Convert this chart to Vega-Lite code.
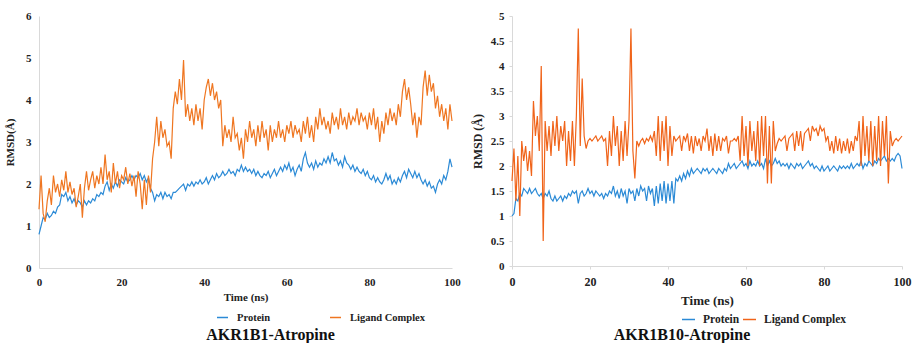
{
"$schema": "https://vega.github.io/schema/vega-lite/v6.json",
"background": "white",
"padding": {"left": 4, "top": 10, "right": 5, "bottom": 0},
"spacing": 10,
"config": {
  "view": {"stroke": null},
  "font": "Liberation Serif",
  "axis": {"domainColor": "#d9d9d9", "grid": false, "ticks": false, "labelFlush": false, "labelFont": "Liberation Serif", "labelFontWeight": "bold", "labelColor": "#222222", "titleFont": "Liberation Serif", "titleFontWeight": "bold", "titleColor": "#222222"},
  "legend": {"labelFont": "Liberation Serif", "labelFontWeight": "bold", "labelColor": "#222222", "padding": 0},
  "title": {"font": "Liberation Serif", "fontWeight": "bold", "color": "#111111"}
},
"resolve": {"scale": {"color": "independent", "x": "independent", "y": "independent"}, "legend": {"color": "independent"}},
"hconcat": [
{
  "width": 413, "height": 252,
  "title": {"text": "AKR1B1-Atropine", "orient": "bottom", "anchor": "middle", "fontSize": 16, "dx": 25, "offset": 4},
  "data": {"values": [
{"t":0,"Protein":0.8,"Ligand Complex":1.4},{"t":0.5,"Protein":1.0,"Ligand Complex":2.2},{"t":1,"Protein":1.2,"Ligand Complex":1.3},{"t":1.5,"Protein":1.15,"Ligand Complex":1.1},{"t":2,"Protein":1.3,"Ligand Complex":1.6},{"t":2.5,"Protein":1.2,"Ligand Complex":1.9},{"t":3,"Protein":1.25,"Ligand Complex":1.5},{"t":3.5,"Protein":1.35,"Ligand Complex":2.2},{"t":4,"Protein":1.3,"Ligand Complex":1.8},{"t":4.5,"Protein":1.45,"Ligand Complex":2.0},
{"t":5,"Protein":1.5,"Ligand Complex":1.7},{"t":5.5,"Protein":1.75,"Ligand Complex":2.1},{"t":6,"Protein":1.7,"Ligand Complex":1.85},{"t":6.5,"Protein":1.8,"Ligand Complex":2.3},{"t":7,"Protein":1.6,"Ligand Complex":1.8},{"t":7.5,"Protein":1.7,"Ligand Complex":2.05},{"t":8,"Protein":1.55,"Ligand Complex":1.75},{"t":8.5,"Protein":1.65,"Ligand Complex":1.9},{"t":9,"Protein":1.5,"Ligand Complex":1.45},{"t":9.5,"Protein":1.6,"Ligand Complex":1.7},
{"t":10,"Protein":1.55,"Ligand Complex":2.0},{"t":10.5,"Protein":1.45,"Ligand Complex":1.2},{"t":11,"Protein":1.6,"Ligand Complex":1.9},{"t":11.5,"Protein":1.5,"Ligand Complex":2.3},{"t":12,"Protein":1.6,"Ligand Complex":1.85},{"t":12.5,"Protein":1.55,"Ligand Complex":2.1},{"t":13,"Protein":1.65,"Ligand Complex":2.3},{"t":13.5,"Protein":1.6,"Ligand Complex":1.9},{"t":14,"Protein":1.75,"Ligand Complex":2.2},{"t":14.5,"Protein":1.7,"Ligand Complex":2.0},
{"t":15,"Protein":1.8,"Ligand Complex":2.4},{"t":15.5,"Protein":1.75,"Ligand Complex":2.0},{"t":16,"Protein":1.95,"Ligand Complex":2.7},{"t":16.5,"Protein":2.05,"Ligand Complex":2.1},{"t":17,"Protein":1.85,"Ligand Complex":2.3},{"t":17.5,"Protein":2.0,"Ligand Complex":1.8},{"t":18,"Protein":1.9,"Ligand Complex":2.5},{"t":18.5,"Protein":2.05,"Ligand Complex":2.0},{"t":19,"Protein":1.95,"Ligand Complex":2.3},{"t":19.5,"Protein":2.1,"Ligand Complex":1.9},
{"t":20,"Protein":2.05,"Ligand Complex":2.2},{"t":20.5,"Protein":2.0,"Ligand Complex":2.1},{"t":21,"Protein":2.15,"Ligand Complex":2.4},{"t":21.5,"Protein":2.05,"Ligand Complex":2.0},{"t":22,"Protein":2.1,"Ligand Complex":2.25},{"t":22.5,"Protein":2.2,"Ligand Complex":1.95},{"t":23,"Protein":2.1,"Ligand Complex":2.2},{"t":23.5,"Protein":2.2,"Ligand Complex":1.7},{"t":24,"Protein":2.15,"Ligand Complex":2.3},{"t":24.5,"Protein":2.25,"Ligand Complex":2.0},
{"t":25,"Protein":2.1,"Ligand Complex":1.4},{"t":25.5,"Protein":2.2,"Ligand Complex":2.1},{"t":26,"Protein":2.05,"Ligand Complex":1.5},{"t":26.5,"Protein":2.15,"Ligand Complex":2.2},{"t":27,"Protein":1.9,"Ligand Complex":1.8},{"t":27.5,"Protein":1.8,"Ligand Complex":2.6},{"t":28,"Protein":1.6,"Ligand Complex":3.0},{"t":28.5,"Protein":1.75,"Ligand Complex":3.6},{"t":29,"Protein":1.7,"Ligand Complex":2.9},{"t":29.5,"Protein":1.8,"Ligand Complex":3.5},
{"t":30,"Protein":1.65,"Ligand Complex":3.1},{"t":30.5,"Protein":1.8,"Ligand Complex":3.3},{"t":31,"Protein":1.7,"Ligand Complex":2.9},{"t":31.5,"Protein":1.75,"Ligand Complex":3.0},{"t":32,"Protein":1.65,"Ligand Complex":2.6},{"t":32.5,"Protein":1.8,"Ligand Complex":3.8},{"t":33,"Protein":1.8,"Ligand Complex":4.2},{"t":33.5,"Protein":1.85,"Ligand Complex":3.9},{"t":34,"Protein":1.9,"Ligand Complex":4.5},{"t":34.5,"Protein":1.95,"Ligand Complex":4.0},
{"t":35,"Protein":2.0,"Ligand Complex":4.95},{"t":35.5,"Protein":1.85,"Ligand Complex":3.6},{"t":36,"Protein":2.0,"Ligand Complex":3.9},{"t":36.5,"Protein":1.95,"Ligand Complex":3.5},{"t":37,"Protein":2.05,"Ligand Complex":3.8},{"t":37.5,"Protein":1.95,"Ligand Complex":3.4},{"t":38,"Protein":2.05,"Ligand Complex":3.9},{"t":38.5,"Protein":2.0,"Ligand Complex":3.5},{"t":39,"Protein":2.1,"Ligand Complex":3.8},{"t":39.5,"Protein":2.0,"Ligand Complex":3.3},
{"t":40,"Protein":2.05,"Ligand Complex":4.0},{"t":40.5,"Protein":2.15,"Ligand Complex":4.3},{"t":41,"Protein":2.0,"Ligand Complex":4.5},{"t":41.5,"Protein":2.1,"Ligand Complex":4.1},{"t":42,"Protein":2.2,"Ligand Complex":4.4},{"t":42.5,"Protein":2.1,"Ligand Complex":4.0},{"t":43,"Protein":2.25,"Ligand Complex":4.2},{"t":43.5,"Protein":2.15,"Ligand Complex":3.8},{"t":44,"Protein":2.2,"Ligand Complex":4.0},{"t":44.5,"Protein":2.3,"Ligand Complex":2.9},
{"t":45,"Protein":2.2,"Ligand Complex":3.4},{"t":45.5,"Protein":2.25,"Ligand Complex":3.1},{"t":46,"Protein":2.35,"Ligand Complex":3.3},{"t":46.5,"Protein":2.25,"Ligand Complex":3.0},{"t":47,"Protein":2.3,"Ligand Complex":3.6},{"t":47.5,"Protein":2.2,"Ligand Complex":3.1},{"t":48,"Protein":2.35,"Ligand Complex":3.2},{"t":48.5,"Protein":2.3,"Ligand Complex":2.8},{"t":49,"Protein":2.45,"Ligand Complex":3.1},{"t":49.5,"Protein":2.3,"Ligand Complex":2.6},
{"t":50,"Protein":2.4,"Ligand Complex":3.3},{"t":50.5,"Protein":2.3,"Ligand Complex":3.0},{"t":51,"Protein":2.35,"Ligand Complex":3.5},{"t":51.5,"Protein":2.25,"Ligand Complex":3.1},{"t":52,"Protein":2.35,"Ligand Complex":3.3},{"t":52.5,"Protein":2.2,"Ligand Complex":2.9},{"t":53,"Protein":2.3,"Ligand Complex":3.4},{"t":53.5,"Protein":2.2,"Ligand Complex":3.0},{"t":54,"Protein":2.15,"Ligand Complex":3.5},{"t":54.5,"Protein":2.25,"Ligand Complex":3.1},
{"t":55,"Protein":2.2,"Ligand Complex":3.3},{"t":55.5,"Protein":2.3,"Ligand Complex":2.8},{"t":56,"Protein":2.15,"Ligand Complex":3.4},{"t":56.5,"Protein":2.25,"Ligand Complex":3.0},{"t":57,"Protein":2.35,"Ligand Complex":3.3},{"t":57.5,"Protein":2.2,"Ligand Complex":3.1},{"t":58,"Protein":2.3,"Ligand Complex":3.5},{"t":58.5,"Protein":2.4,"Ligand Complex":3.1},{"t":59,"Protein":2.3,"Ligand Complex":3.3},{"t":59.5,"Protein":2.45,"Ligand Complex":3.0},
{"t":60,"Protein":2.35,"Ligand Complex":3.4},{"t":60.5,"Protein":2.5,"Ligand Complex":3.2},{"t":61,"Protein":2.3,"Ligand Complex":3.5},{"t":61.5,"Protein":2.4,"Ligand Complex":3.1},{"t":62,"Protein":2.2,"Ligand Complex":3.4},{"t":62.5,"Protein":2.35,"Ligand Complex":3.2},{"t":63,"Protein":2.45,"Ligand Complex":3.3},{"t":63.5,"Protein":2.3,"Ligand Complex":3.0},{"t":64,"Protein":2.6,"Ligand Complex":3.5},{"t":64.5,"Protein":2.75,"Ligand Complex":3.2},
{"t":65,"Protein":2.5,"Ligand Complex":3.6},{"t":65.5,"Protein":2.4,"Ligand Complex":3.1},{"t":66,"Protein":2.5,"Ligand Complex":3.4},{"t":66.5,"Protein":2.35,"Ligand Complex":3.0},{"t":67,"Protein":2.55,"Ligand Complex":3.6},{"t":67.5,"Protein":2.4,"Ligand Complex":3.3},{"t":68,"Protein":2.5,"Ligand Complex":3.8},{"t":68.5,"Protein":2.45,"Ligand Complex":3.4},{"t":69,"Protein":2.6,"Ligand Complex":3.6},{"t":69.5,"Protein":2.5,"Ligand Complex":3.3},
{"t":70,"Protein":2.65,"Ligand Complex":3.5},{"t":70.5,"Protein":2.5,"Ligand Complex":3.2},{"t":71,"Protein":2.75,"Ligand Complex":3.7},{"t":71.5,"Protein":2.55,"Ligand Complex":3.4},{"t":72,"Protein":2.6,"Ligand Complex":3.6},{"t":72.5,"Protein":2.45,"Ligand Complex":3.3},{"t":73,"Protein":2.55,"Ligand Complex":3.8},{"t":73.5,"Protein":2.4,"Ligand Complex":3.4},{"t":74,"Protein":2.65,"Ligand Complex":3.6},{"t":74.5,"Protein":2.5,"Ligand Complex":3.3},
{"t":75,"Protein":2.45,"Ligand Complex":3.7},{"t":75.5,"Protein":2.35,"Ligand Complex":3.4},{"t":76,"Protein":2.45,"Ligand Complex":3.6},{"t":76.5,"Protein":2.3,"Ligand Complex":3.5},{"t":77,"Protein":2.4,"Ligand Complex":3.8},{"t":77.5,"Protein":2.3,"Ligand Complex":3.4},{"t":78,"Protein":2.25,"Ligand Complex":3.7},{"t":78.5,"Protein":2.35,"Ligand Complex":3.5},{"t":79,"Protein":2.2,"Ligand Complex":3.6},{"t":79.5,"Protein":2.3,"Ligand Complex":3.3},
{"t":80,"Protein":2.15,"Ligand Complex":3.7},{"t":80.5,"Protein":2.1,"Ligand Complex":3.4},{"t":81,"Protein":2.2,"Ligand Complex":3.8},{"t":81.5,"Protein":2.05,"Ligand Complex":3.3},{"t":82,"Protein":2.15,"Ligand Complex":3.6},{"t":82.5,"Protein":2.05,"Ligand Complex":3.0},{"t":83,"Protein":2.0,"Ligand Complex":3.5},{"t":83.5,"Protein":2.1,"Ligand Complex":3.2},{"t":84,"Protein":2.25,"Ligand Complex":3.7},{"t":84.5,"Protein":2.1,"Ligand Complex":3.4},
{"t":85,"Protein":2.2,"Ligand Complex":3.8},{"t":85.5,"Protein":2.0,"Ligand Complex":3.5},{"t":86,"Protein":2.1,"Ligand Complex":3.7},{"t":86.5,"Protein":2.0,"Ligand Complex":3.4},{"t":87,"Protein":2.15,"Ligand Complex":3.9},{"t":87.5,"Protein":2.05,"Ligand Complex":3.6},{"t":88,"Protein":2.2,"Ligand Complex":4.2},{"t":88.5,"Protein":2.3,"Ligand Complex":4.5},{"t":89,"Protein":2.15,"Ligand Complex":4.0},{"t":89.5,"Protein":2.35,"Ligand Complex":4.3},
{"t":90,"Protein":2.25,"Ligand Complex":3.9},{"t":90.5,"Protein":2.15,"Ligand Complex":3.4},{"t":91,"Protein":2.3,"Ligand Complex":3.7},{"t":91.5,"Protein":2.15,"Ligand Complex":3.1},{"t":92,"Protein":2.25,"Ligand Complex":3.6},{"t":92.5,"Protein":2.1,"Ligand Complex":3.4},{"t":93,"Protein":2.0,"Ligand Complex":4.3},{"t":93.5,"Protein":2.1,"Ligand Complex":4.7},{"t":94,"Protein":1.95,"Ligand Complex":4.1},{"t":94.5,"Protein":2.05,"Ligand Complex":4.6},
{"t":95,"Protein":1.9,"Ligand Complex":4.2},{"t":95.5,"Protein":1.95,"Ligand Complex":4.4},{"t":96,"Protein":1.8,"Ligand Complex":3.8},{"t":96.5,"Protein":2.0,"Ligand Complex":4.1},{"t":97,"Protein":2.1,"Ligand Complex":3.6},{"t":97.5,"Protein":2.0,"Ligand Complex":3.9},{"t":98,"Protein":2.2,"Ligand Complex":3.5},{"t":98.5,"Protein":2.1,"Ligand Complex":3.8},{"t":99,"Protein":2.3,"Ligand Complex":3.3},{"t":99.5,"Protein":2.6,"Ligand Complex":3.9},
{"t":100,"Protein":2.4,"Ligand Complex":3.5}
  ]},
  "transform": [{"fold": ["Protein", "Ligand Complex"], "as": ["Series", "RMSD"]}],
  "mark": {"type": "line", "strokeWidth": 1.2},
  "encoding": {
    "x": {"field": "t", "type": "quantitative", "scale": {"domain": [0, 100], "nice": false},
          "axis": {"title": "Time (ns)", "values": [0, 20, 40, 60, 80, 100], "labelFontSize": 11, "titleFontSize": 11, "labelPadding": 8, "titlePadding": 4}},
    "y": {"field": "RMSD", "type": "quantitative", "scale": {"domain": [0, 6], "nice": false},
          "axis": {"title": "RMSD(Å)", "values": [0, 1, 2, 3, 4, 5, 6], "labelFontSize": 11, "titleFontSize": 11, "labelPadding": 8, "titlePadding": 10}},
    "color": {"field": "Series", "type": "nominal",
              "scale": {"domain": ["Protein", "Ligand Complex"], "range": ["#2b8ad6", "#ef7621"]},
              "legend": {"title": null, "orient": "none", "legendX": 177, "legendY": 295, "direction": "horizontal", "symbolType": "stroke", "symbolSize": 121, "symbolStrokeWidth": 1.5, "labelFontSize": 10.5, "labelOffset": 8, "columnPadding": 56}}
  }
},
{
  "width": 390, "height": 250,
  "title": {"text": "AKR1B10-Atropine", "orient": "bottom", "anchor": "middle", "fontSize": 16, "dx": -25, "offset": 2},
  "data": {"values": [
{"t":0,"Protein":1.0,"Ligand Complex":1.7},{"t":0.5,"Protein":1.05,"Ligand Complex":2.35},{"t":1,"Protein":1.35,"Ligand Complex":1.3},{"t":1.5,"Protein":1.3,"Ligand Complex":2.2},{"t":2,"Protein":1.45,"Ligand Complex":1.0},{"t":2.5,"Protein":1.4,"Ligand Complex":2.5},{"t":3,"Protein":1.55,"Ligand Complex":2.1},{"t":3.5,"Protein":1.5,"Ligand Complex":2.4},{"t":4,"Protein":1.45,"Ligand Complex":1.9},{"t":4.5,"Protein":1.55,"Ligand Complex":2.3},
{"t":5,"Protein":1.45,"Ligand Complex":1.8},{"t":5.5,"Protein":1.5,"Ligand Complex":3.3},{"t":6,"Protein":1.55,"Ligand Complex":2.6},{"t":6.5,"Protein":1.45,"Ligand Complex":3.0},{"t":7,"Protein":1.4,"Ligand Complex":2.3},{"t":7.5,"Protein":1.45,"Ligand Complex":4.0},{"t":8,"Protein":1.35,"Ligand Complex":0.5},{"t":8.5,"Protein":1.45,"Ligand Complex":2.9},{"t":9,"Protein":1.4,"Ligand Complex":2.3},{"t":9.5,"Protein":1.5,"Ligand Complex":2.8},
{"t":10,"Protein":1.35,"Ligand Complex":2.2},{"t":10.5,"Protein":1.3,"Ligand Complex":2.9},{"t":11,"Protein":1.4,"Ligand Complex":2.4},{"t":11.5,"Protein":1.3,"Ligand Complex":3.0},{"t":12,"Protein":1.35,"Ligand Complex":2.3},{"t":12.5,"Protein":1.4,"Ligand Complex":2.8},{"t":13,"Protein":1.3,"Ligand Complex":2.5},{"t":13.5,"Protein":1.4,"Ligand Complex":2.9},{"t":14,"Protein":1.35,"Ligand Complex":2.0},{"t":14.5,"Protein":1.45,"Ligand Complex":2.7},
{"t":15,"Protein":1.4,"Ligand Complex":2.1},{"t":15.5,"Protein":1.5,"Ligand Complex":2.9},{"t":16,"Protein":1.45,"Ligand Complex":2.0},{"t":16.5,"Protein":1.5,"Ligand Complex":3.0},{"t":17,"Protein":1.25,"Ligand Complex":4.75},{"t":17.5,"Protein":1.45,"Ligand Complex":2.4},{"t":18,"Protein":1.5,"Ligand Complex":3.75},{"t":18.5,"Protein":1.4,"Ligand Complex":2.6},{"t":19,"Protein":1.45,"Ligand Complex":2.35},{"t":19.5,"Protein":1.55,"Ligand Complex":2.5},
{"t":20,"Protein":1.45,"Ligand Complex":2.55},{"t":20.5,"Protein":1.5,"Ligand Complex":2.5},{"t":21,"Protein":1.4,"Ligand Complex":2.55},{"t":21.5,"Protein":1.5,"Ligand Complex":2.6},{"t":22,"Protein":1.45,"Ligand Complex":2.5},{"t":22.5,"Protein":1.4,"Ligand Complex":2.55},{"t":23,"Protein":1.45,"Ligand Complex":2.6},{"t":23.5,"Protein":1.35,"Ligand Complex":2.5},{"t":24,"Protein":1.45,"Ligand Complex":2.55},{"t":24.5,"Protein":1.4,"Ligand Complex":2.0},
{"t":25,"Protein":1.5,"Ligand Complex":2.7},{"t":25.5,"Protein":1.45,"Ligand Complex":2.2},{"t":26,"Protein":1.6,"Ligand Complex":3.0},{"t":26.5,"Protein":1.4,"Ligand Complex":2.4},{"t":27,"Protein":1.5,"Ligand Complex":2.8},{"t":27.5,"Protein":1.35,"Ligand Complex":2.0},{"t":28,"Protein":1.55,"Ligand Complex":2.7},{"t":28.5,"Protein":1.4,"Ligand Complex":2.1},{"t":29,"Protein":1.5,"Ligand Complex":2.9},{"t":29.5,"Protein":1.25,"Ligand Complex":2.2},
{"t":30,"Protein":1.55,"Ligand Complex":2.9},{"t":30.5,"Protein":1.45,"Ligand Complex":4.75},{"t":31,"Protein":1.5,"Ligand Complex":2.3},{"t":31.5,"Protein":1.3,"Ligand Complex":1.75},{"t":32,"Protein":1.55,"Ligand Complex":2.5},{"t":32.5,"Protein":1.4,"Ligand Complex":2.4},{"t":33,"Protein":1.6,"Ligand Complex":2.5},{"t":33.5,"Protein":1.5,"Ligand Complex":2.55},{"t":34,"Protein":1.55,"Ligand Complex":2.45},{"t":34.5,"Protein":1.3,"Ligand Complex":2.55},
{"t":35,"Protein":1.6,"Ligand Complex":2.5},{"t":35.5,"Protein":1.45,"Ligand Complex":2.6},{"t":36,"Protein":1.55,"Ligand Complex":2.5},{"t":36.5,"Protein":1.2,"Ligand Complex":2.7},{"t":37,"Protein":1.6,"Ligand Complex":2.2},{"t":37.5,"Protein":1.25,"Ligand Complex":3.0},{"t":38,"Protein":1.65,"Ligand Complex":2.1},{"t":38.5,"Protein":1.3,"Ligand Complex":2.9},{"t":39,"Protein":1.7,"Ligand Complex":2.3},{"t":39.5,"Protein":1.25,"Ligand Complex":3.0},
{"t":40,"Protein":1.65,"Ligand Complex":2.0},{"t":40.5,"Protein":1.3,"Ligand Complex":2.8},{"t":41,"Protein":1.7,"Ligand Complex":2.2},{"t":41.5,"Protein":1.25,"Ligand Complex":2.6},{"t":42,"Protein":1.75,"Ligand Complex":2.5},{"t":42.5,"Protein":1.7,"Ligand Complex":2.55},{"t":43,"Protein":1.8,"Ligand Complex":2.6},{"t":43.5,"Protein":1.7,"Ligand Complex":2.3},{"t":44,"Protein":1.85,"Ligand Complex":2.6},{"t":44.5,"Protein":1.75,"Ligand Complex":2.5},
{"t":45,"Protein":1.9,"Ligand Complex":2.65},{"t":45.5,"Protein":1.8,"Ligand Complex":2.3},{"t":46,"Protein":1.95,"Ligand Complex":2.6},{"t":46.5,"Protein":1.85,"Ligand Complex":2.25},{"t":47,"Protein":1.9,"Ligand Complex":2.6},{"t":47.5,"Protein":1.95,"Ligand Complex":2.4},{"t":48,"Protein":1.9,"Ligand Complex":2.55},{"t":48.5,"Protein":1.85,"Ligand Complex":2.3},{"t":49,"Protein":1.95,"Ligand Complex":2.6},{"t":49.5,"Protein":1.9,"Ligand Complex":2.5},
{"t":50,"Protein":1.95,"Ligand Complex":2.75},{"t":50.5,"Protein":1.85,"Ligand Complex":2.3},{"t":51,"Protein":1.9,"Ligand Complex":2.6},{"t":51.5,"Protein":1.95,"Ligand Complex":2.2},{"t":52,"Protein":1.9,"Ligand Complex":2.65},{"t":52.5,"Protein":1.85,"Ligand Complex":2.3},{"t":53,"Protein":1.95,"Ligand Complex":2.6},{"t":53.5,"Protein":1.9,"Ligand Complex":2.3},{"t":54,"Protein":1.85,"Ligand Complex":2.55},{"t":54.5,"Protein":1.95,"Ligand Complex":2.5},
{"t":55,"Protein":1.9,"Ligand Complex":2.6},{"t":55.5,"Protein":2.05,"Ligand Complex":2.25},{"t":56,"Protein":1.95,"Ligand Complex":2.5},{"t":56.5,"Protein":2.0,"Ligand Complex":2.5},{"t":57,"Protein":2.05,"Ligand Complex":2.55},{"t":57.5,"Protein":1.95,"Ligand Complex":2.5},{"t":58,"Protein":2.0,"Ligand Complex":2.6},{"t":58.5,"Protein":2.05,"Ligand Complex":2.1},{"t":59,"Protein":2.1,"Ligand Complex":3.0},{"t":59.5,"Protein":2.0,"Ligand Complex":2.2},
{"t":60,"Protein":2.05,"Ligand Complex":2.8},{"t":60.5,"Protein":1.95,"Ligand Complex":2.0},{"t":61,"Protein":2.1,"Ligand Complex":2.9},{"t":61.5,"Protein":2.0,"Ligand Complex":2.3},{"t":62,"Protein":2.05,"Ligand Complex":2.7},{"t":62.5,"Protein":2.0,"Ligand Complex":2.1},{"t":63,"Protein":2.1,"Ligand Complex":2.9},{"t":63.5,"Protein":2.0,"Ligand Complex":2.0},{"t":64,"Protein":2.05,"Ligand Complex":3.0},{"t":64.5,"Protein":1.95,"Ligand Complex":2.2},
{"t":65,"Protein":2.15,"Ligand Complex":3.0},{"t":65.5,"Protein":2.0,"Ligand Complex":1.65},{"t":66,"Protein":2.1,"Ligand Complex":2.8},{"t":66.5,"Protein":2.0,"Ligand Complex":1.65},{"t":67,"Protein":2.05,"Ligand Complex":2.9},{"t":67.5,"Protein":2.15,"Ligand Complex":2.3},{"t":68,"Protein":2.05,"Ligand Complex":2.45},{"t":68.5,"Protein":2.1,"Ligand Complex":2.55},{"t":69,"Protein":2.0,"Ligand Complex":2.5},{"t":69.5,"Protein":2.05,"Ligand Complex":2.55},
{"t":70,"Protein":2.0,"Ligand Complex":2.6},{"t":70.5,"Protein":2.05,"Ligand Complex":2.3},{"t":71,"Protein":1.95,"Ligand Complex":2.55},{"t":71.5,"Protein":2.05,"Ligand Complex":2.6},{"t":72,"Protein":2.0,"Ligand Complex":2.65},{"t":72.5,"Protein":1.95,"Ligand Complex":2.3},{"t":73,"Protein":2.05,"Ligand Complex":2.7},{"t":73.5,"Protein":2.0,"Ligand Complex":2.4},{"t":74,"Protein":2.05,"Ligand Complex":2.7},{"t":74.5,"Protein":1.95,"Ligand Complex":2.3},
{"t":75,"Protein":2.0,"Ligand Complex":2.65},{"t":75.5,"Protein":2.05,"Ligand Complex":2.7},{"t":76,"Protein":2.1,"Ligand Complex":2.75},{"t":76.5,"Protein":2.0,"Ligand Complex":2.5},{"t":77,"Protein":2.05,"Ligand Complex":2.8},{"t":77.5,"Protein":1.95,"Ligand Complex":2.7},{"t":78,"Protein":2.0,"Ligand Complex":2.75},{"t":78.5,"Protein":1.95,"Ligand Complex":2.6},{"t":79,"Protein":1.9,"Ligand Complex":2.8},{"t":79.5,"Protein":2.0,"Ligand Complex":2.7},
{"t":80,"Protein":1.9,"Ligand Complex":2.75},{"t":80.5,"Protein":1.95,"Ligand Complex":2.5},{"t":81,"Protein":2.0,"Ligand Complex":2.6},{"t":81.5,"Protein":1.9,"Ligand Complex":2.3},{"t":82,"Protein":1.95,"Ligand Complex":2.5},{"t":82.5,"Protein":2.0,"Ligand Complex":2.25},{"t":83,"Protein":1.95,"Ligand Complex":2.6},{"t":83.5,"Protein":1.9,"Ligand Complex":2.3},{"t":84,"Protein":2.0,"Ligand Complex":2.55},{"t":84.5,"Protein":1.95,"Ligand Complex":2.25},
{"t":85,"Protein":2.0,"Ligand Complex":2.5},{"t":85.5,"Protein":1.95,"Ligand Complex":2.3},{"t":86,"Protein":2.0,"Ligand Complex":2.55},{"t":86.5,"Protein":1.95,"Ligand Complex":2.25},{"t":87,"Protein":2.05,"Ligand Complex":2.5},{"t":87.5,"Protein":1.95,"Ligand Complex":2.3},{"t":88,"Protein":2.0,"Ligand Complex":2.6},{"t":88.5,"Protein":2.05,"Ligand Complex":2.5},{"t":89,"Protein":2.0,"Ligand Complex":2.9},{"t":89.5,"Protein":2.1,"Ligand Complex":2.0},
{"t":90,"Protein":1.95,"Ligand Complex":3.0},{"t":90.5,"Protein":2.05,"Ligand Complex":2.2},{"t":91,"Protein":2.0,"Ligand Complex":2.8},{"t":91.5,"Protein":2.1,"Ligand Complex":2.1},{"t":92,"Protein":2.05,"Ligand Complex":2.9},{"t":92.5,"Protein":2.0,"Ligand Complex":2.0},{"t":93,"Protein":2.1,"Ligand Complex":2.8},{"t":93.5,"Protein":2.05,"Ligand Complex":2.1},{"t":94,"Protein":2.15,"Ligand Complex":3.0},{"t":94.5,"Protein":2.1,"Ligand Complex":2.0},
{"t":95,"Protein":2.15,"Ligand Complex":2.9},{"t":95.5,"Protein":2.2,"Ligand Complex":2.2},{"t":96,"Protein":2.1,"Ligand Complex":3.0},{"t":96.5,"Protein":2.15,"Ligand Complex":1.65},{"t":97,"Protein":2.1,"Ligand Complex":2.7},{"t":97.5,"Protein":2.15,"Ligand Complex":2.4},{"t":98,"Protein":2.1,"Ligand Complex":2.5},{"t":98.5,"Protein":2.2,"Ligand Complex":2.55},{"t":99,"Protein":2.25,"Ligand Complex":2.5},{"t":99.5,"Protein":2.2,"Ligand Complex":2.55},
{"t":100,"Protein":1.95,"Ligand Complex":2.6}
  ]},
  "transform": [{"fold": ["Protein", "Ligand Complex"], "as": ["Series", "RMSD"]}],
  "mark": {"type": "line", "strokeWidth": 1.2},
  "encoding": {
    "x": {"field": "t", "type": "quantitative", "scale": {"domain": [0, 100], "nice": false},
          "axis": {"title": "Time (ns)", "values": [0, 20, 40, 60, 80, 100], "labelFontSize": 12, "titleFontSize": 13, "labelPadding": 7, "titlePadding": 7, "ticks": true, "tickSize": 3, "tickColor": "#d9d9d9"}},
    "y": {"field": "RMSD", "type": "quantitative", "scale": {"domain": [0, 5], "nice": false},
          "axis": {"title": "RMSD (Å)", "format": "~g", "values": [0, 0.5, 1, 1.5, 2, 2.5, 3, 3.5, 4, 4.5, 5], "labelFontSize": 11, "titleFontSize": 12, "labelPadding": 5, "titlePadding": 6, "ticks": true, "tickSize": 3, "tickColor": "#d9d9d9"}},
    "color": {"field": "Series", "type": "nominal",
              "scale": {"domain": ["Protein", "Ligand Complex"], "range": ["#2b8ad6", "#f0641a"]},
              "legend": {"title": null, "orient": "none", "legendX": 169, "legendY": 296, "direction": "horizontal", "symbolType": "stroke", "symbolSize": 169, "symbolStrokeWidth": 1.5, "labelFontSize": 11.5, "labelOffset": 7, "columnPadding": 0}}
  }
}
]
}
